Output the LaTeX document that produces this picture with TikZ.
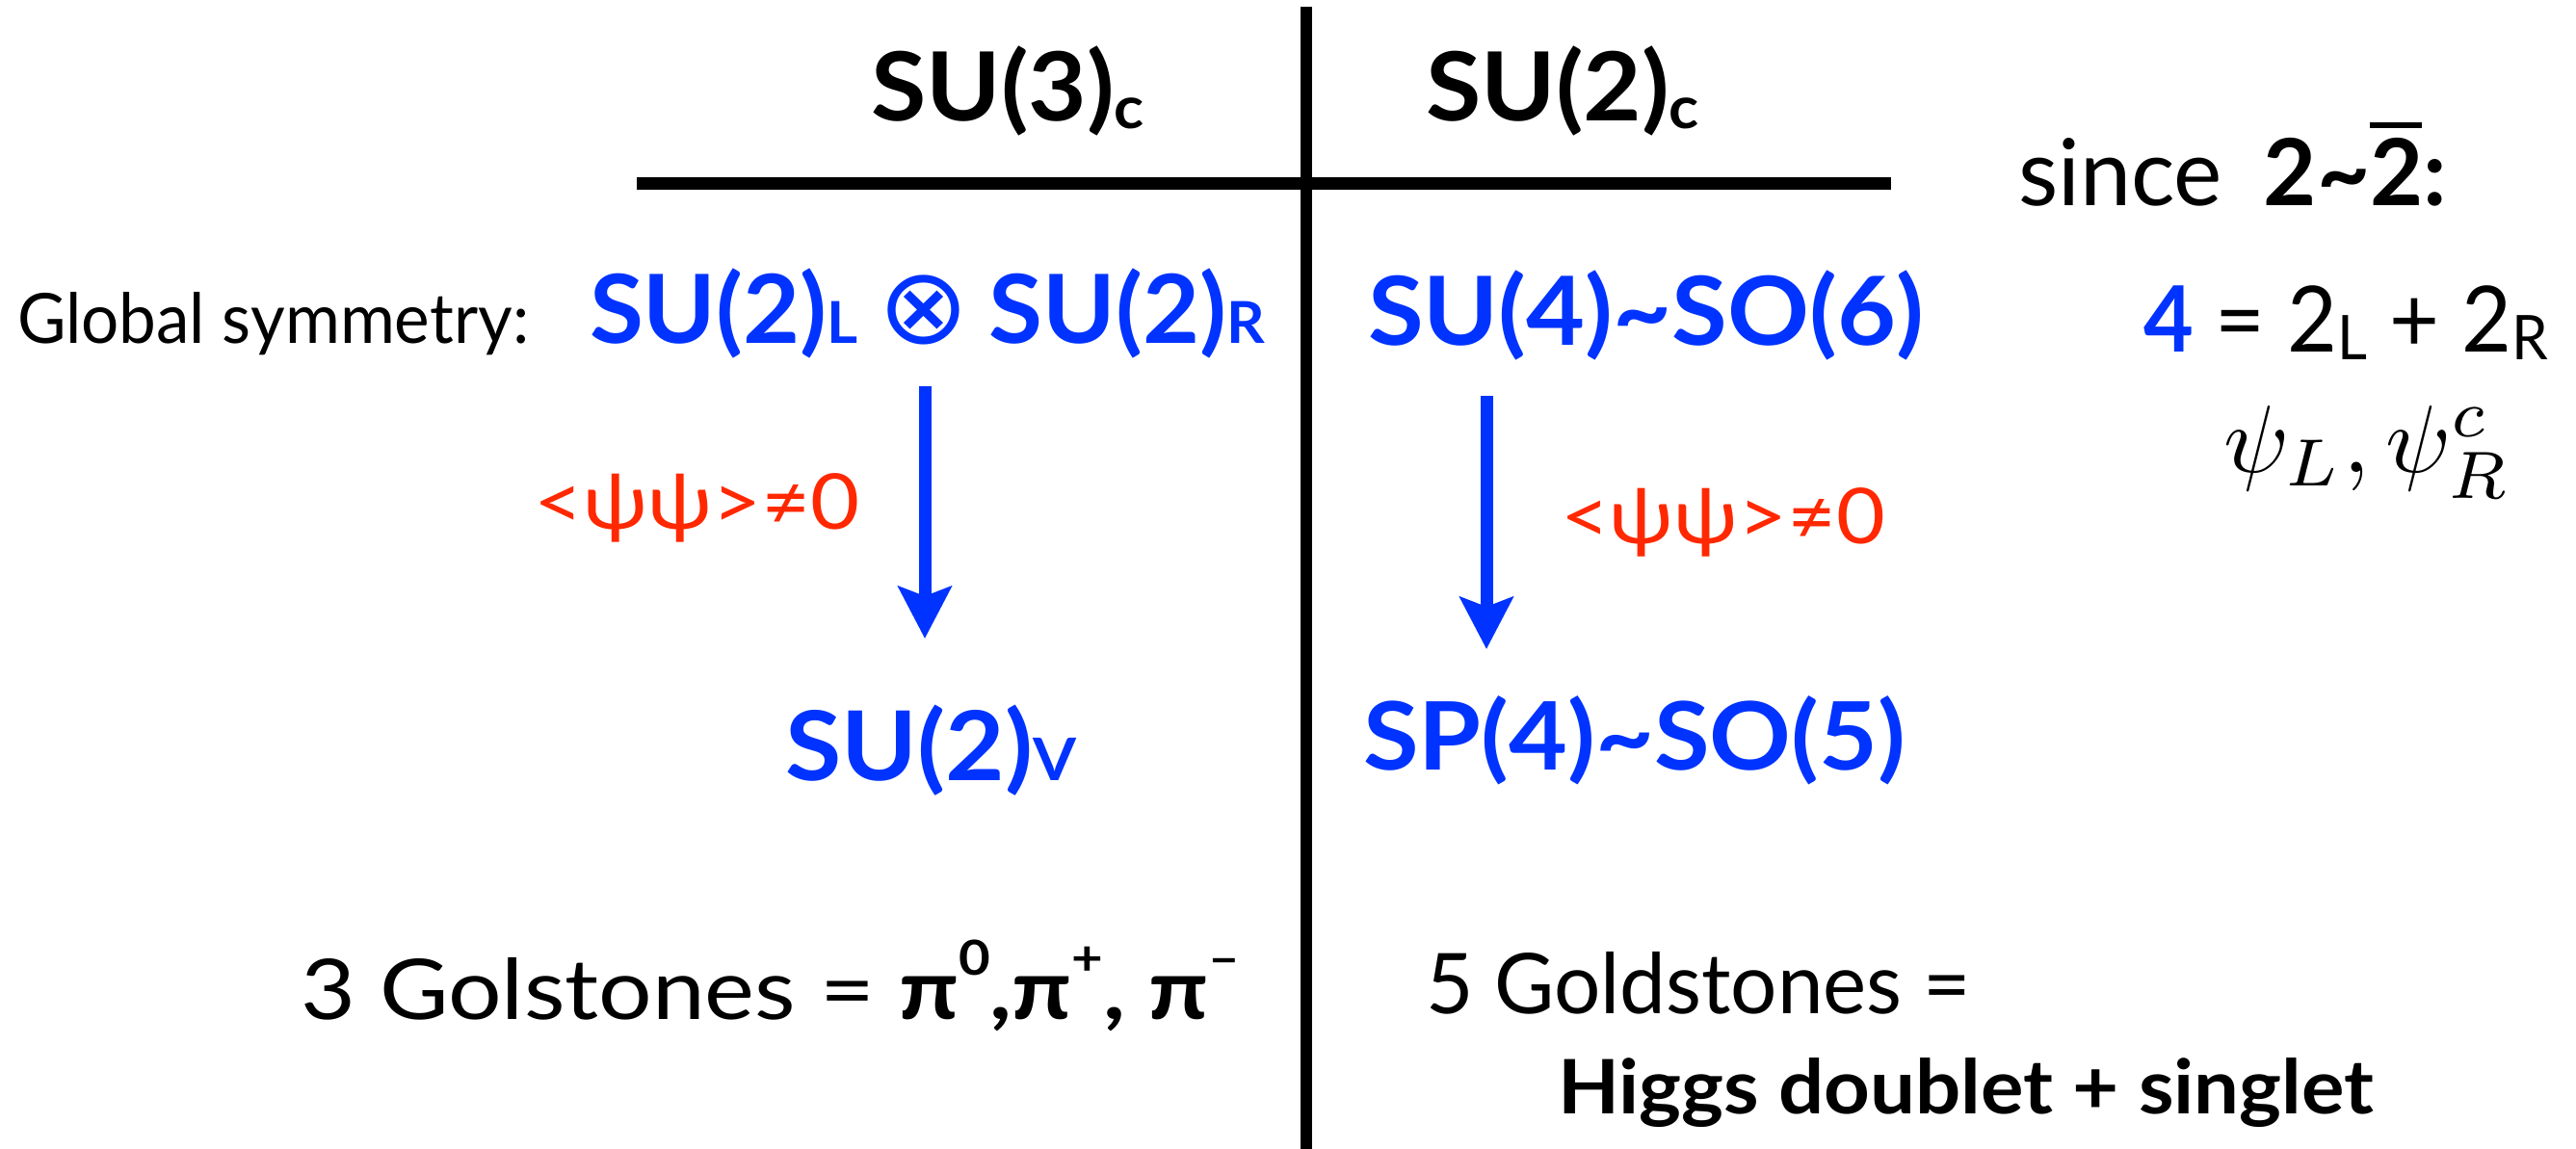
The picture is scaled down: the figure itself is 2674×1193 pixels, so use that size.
\documentclass[tikz,border=0pt]{standalone}
\usepackage{fontspec}
\setmainfont{Lato}
\newfontfamily\dejavu{DejaVu Sans}
\usetikzlibrary{arrows.meta}
\definecolor{kblue}{RGB}{0,51,255}
\definecolor{kred}{RGB}{255,40,0}
\newcommand\fitw[2]{\resizebox{#1pt}{\height}{#2}}
\newcommand\lsub[3]{\raisebox{-#2pt}{\fontsize{#1pt}{#1pt}\selectfont #3}}
\newcommand\fs[1]{\fontsize{#1pt}{#1pt}\selectfont}
\tikzset{
  txt/.style={inner sep=0pt, outer sep=0pt, anchor=base west},
  rule/.style={draw=black, line width=13pt},
  brk/.style={draw=kblue, line width=13pt, -{Stealth[length=54pt, width=55pt, inset=10pt]}, shorten >=0pt},
}
\begin{document}
\begin{tikzpicture}[x=1pt, y=-1pt]
\useasboundingbox (0,0) rectangle (2674,1193);
% rules
\coordinate (vt) at (1356,7);
\coordinate (vb) at (1356,1193);
\coordinate (hl) at (661,190.5);
\coordinate (hr) at (1963,190.5);
\draw[rule, line width=12pt] (vt) -- (vb);
\draw[rule] (hl) -- (hr);
% headers
\node[txt] (su3) at (904,126) {\fitw{284}{\fs{99}\bfseries SU(3)\lsub{61}{8}{c}}};
\node[txt] (su2) at (1480,126) {\fitw{284}{\fs{99}\bfseries SU(2)\lsub{61}{8}{c}}};
% global symmetry row
\node[txt] (glob) at (18,356) {\fitw{531}{\fs{72}Global symmetry:}};
\node[txt, text=kblue] (lr) at (612,356) {\fitw{701}{\fs{99}\bfseries SU(2)\lsub{60}{0}{L}\hspace{0.2em}{\dejavu\mdseries\fs{110}⊗}\hspace{0.2em}SU(2)\lsub{60}{0}{R}}};
\node[txt, text=kblue] (su4) at (1420,358) {\fitw{577}{\fs{99}\bfseries SU(4)\textasciitilde SO(6)}};
% right column
\node[txt] (since) at (2095,214) {\fitw{445}{\fs{96}since\hspace{0.45em}\bfseries 2\textasciitilde\makebox[0pt][l]{\rule[81pt]{0.56em}{6pt}}2:}};
\node[txt] (four) at (2225,365) {\fitw{420}{\fs{95}{\color{kblue}\bfseries 4} = 2\lsub{64}{8}{L} + 2\lsub{64}{8}{R}}};
\node[txt] (psi) at (2308,490) {\resizebox{298pt}{!}{$\psi_L,\psi^c_R$}};
% breaking
\node[txt, text=kred] (vev1) at (554,549) {\fitw{339}{\fs{80}<ψψ>≠0}};
\node[txt, text=kred] (vev2) at (1620,564) {\fitw{337}{\fs{80}<ψψ>≠0}};
\coordinate (a1s) at (960,401);
\coordinate (a1e) at (960,663);
\coordinate (a2s) at (1543,411);
\coordinate (a2e) at (1543,674);
\draw[brk] (a1s) -- (a1e);
\draw[brk] (a2s) -- (a2e);
% unbroken
\node[txt, text=kblue] (su2v) at (815,810) {\fitw{302}{\fs{100}\bfseries SU(2)\lsub{61}{0}{V}}};
\node[txt, text=kblue] (sp4) at (1415,799) {\fitw{563}{\fs{98}\bfseries SP(4)\textasciitilde SO(5)}};
% goldstones
\node[txt] (gold3) at (312,1058) {\fitw{975}{\fs{87}3 Golstones = \bfseries π\raisebox{46pt}{\fs{50}0},π\raisebox{46pt}{\fs{50}+}, π\raisebox{46pt}{\fs{50}–}}};
\node[txt] (gold5) at (1480,1052) {\fitw{566}{\fs{87}5 Goldstones =}};
\node[txt] (higgs) at (1617,1156) {\fitw{847}{\fs{78}\bfseries Higgs doublet + singlet}};
\end{tikzpicture}
\end{document}
